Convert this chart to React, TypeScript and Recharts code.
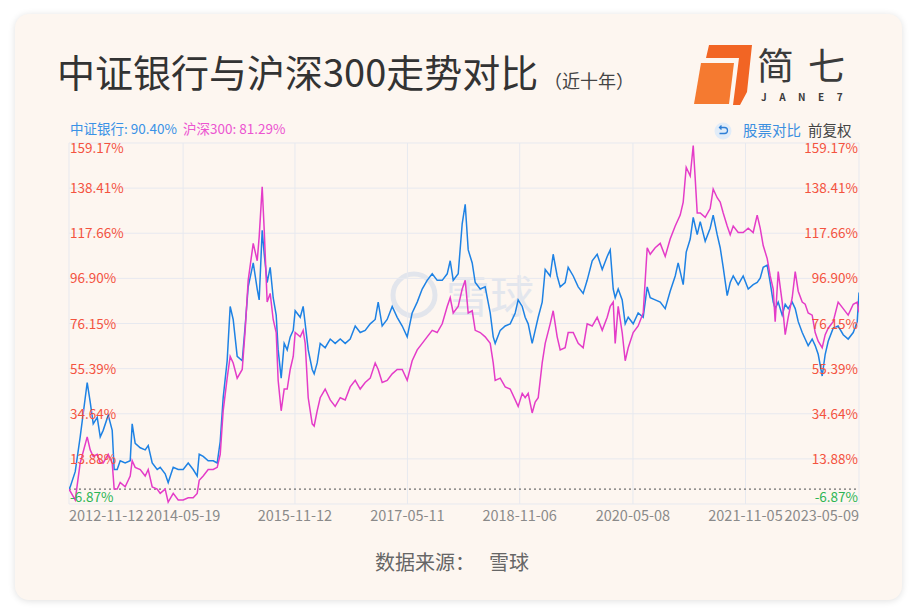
import React from "react";
import {
  LineChart,
  Line,
  XAxis,
  YAxis,
  CartesianGrid,
  ReferenceLine,
} from "recharts";

const FONT = '"Noto Sans CJK SC", "Noto Sans", sans-serif';
const BLUE = "#1e82e4";
const PINK = "#e43cc8";
const RED = "#f4533f";
const GREEN = "#2db555";

// x = decimal year of each sample
const xYear = [
  2012.863, 2012.879, 2012.946, 2013.012, 2013.105, 2013.145, 2013.185, 2013.238, 2013.278, 2013.317,
  2013.384, 2013.437, 2013.463, 2013.503, 2013.543, 2013.609, 2013.676, 2013.702, 2013.742, 2013.809,
  2013.875, 2013.915, 2013.968, 2014.034, 2014.074, 2014.14, 2014.18, 2014.247, 2014.313, 2014.379,
  2014.446, 2014.512, 2014.565, 2014.592, 2014.645, 2014.711, 2014.778, 2014.831, 2014.871, 2014.91,
  2014.963, 2015.003, 2015.043, 2015.096, 2015.163, 2015.202, 2015.242, 2015.309, 2015.362, 2015.388,
  2015.428, 2015.455, 2015.494, 2015.534, 2015.574, 2015.614, 2015.64, 2015.68, 2015.72, 2015.76,
  2015.8, 2015.84, 2015.866, 2015.933, 2015.972, 2015.999, 2016.039, 2016.092, 2016.118, 2016.158,
  2016.198, 2016.264, 2016.331, 2016.397, 2016.464, 2016.53, 2016.596, 2016.663, 2016.729, 2016.795,
  2016.862, 2016.928, 2016.968, 2017.021, 2017.087, 2017.154, 2017.22, 2017.287, 2017.353, 2017.419,
  2017.486, 2017.552, 2017.618, 2017.685, 2017.751, 2017.818, 2017.884, 2017.924, 2017.964, 2018.03,
  2018.083, 2018.123, 2018.163, 2018.216, 2018.256, 2018.322, 2018.388, 2018.455, 2018.495, 2018.521,
  2018.588, 2018.654, 2018.72, 2018.787, 2018.826, 2018.88, 2018.919, 2018.959, 2019.012, 2019.052,
  2019.092, 2019.145, 2019.185, 2019.251, 2019.291, 2019.344, 2019.384, 2019.45, 2019.49, 2019.557,
  2019.623, 2019.689, 2019.742, 2019.809, 2019.875, 2019.942, 2020.008, 2020.048, 2020.088, 2020.114,
  2020.154, 2020.207, 2020.247, 2020.287, 2020.353, 2020.419, 2020.486, 2020.539, 2020.579, 2020.645,
  2020.712, 2020.778, 2020.844, 2020.911, 2020.95, 2020.977, 2021.017, 2021.057, 2021.11, 2021.15,
  2021.176, 2021.203, 2021.243, 2021.309, 2021.375, 2021.415, 2021.468, 2021.508, 2021.548, 2021.601,
  2021.641, 2021.681, 2021.747, 2021.813, 2021.88, 2021.946, 2021.999, 2022.039, 2022.079, 2022.132,
  2022.172, 2022.212, 2022.238, 2022.278, 2022.331, 2022.371, 2022.411, 2022.464, 2022.504, 2022.544,
  2022.597, 2022.636, 2022.676, 2022.729, 2022.769, 2022.809, 2022.862, 2022.902, 2022.942, 2023.008,
  2023.074, 2023.141, 2023.207, 2023.274, 2023.327, 2023.351,
];

// 中证银行 cumulative return, %
const bank = [
  0, 1, 8, 24, 49, 40, 30, 33, 24, 27,
  34, 27, 9, 9, 13, 12, 13, 30, 21, 19,
  18, 20, 12, 9, 10, 7, 3, 10, 9, 9,
  12, 9, 6, 16, 15, 13, 13, 12, 22, 42,
  59, 84, 78, 61, 59, 75, 93, 104, 92, 87,
  119, 108, 95, 102, 88, 80, 64, 51, 67, 64,
  70, 73, 82, 79, 84, 76, 64, 55, 53, 58,
  67, 65, 69, 67, 69, 67, 69, 75, 72, 73,
  76, 78, 86, 75, 78, 84, 79, 75, 70, 81,
  86, 92, 96, 99, 96, 96, 99, 105, 96, 99,
  122, 131, 110, 104, 95, 92, 93, 81, 70, 67,
  73, 75, 76, 81, 87, 84, 79, 76, 67, 73,
  79, 86, 101, 98, 108, 98, 93, 95, 102, 98,
  93, 90, 96, 105, 108, 101, 107, 110, 92, 88,
  92, 87, 76, 79, 76, 81, 79, 93, 88, 87,
  86, 83, 91, 98, 104, 100, 94, 109, 115, 125,
  121, 117, 123, 114, 120, 126, 117, 111, 102, 89,
  95, 98, 94, 98, 92, 94, 95, 97, 102, 103,
  95, 86, 83, 86, 80, 85, 83, 86, 83, 77,
  72, 69, 66, 69, 66, 62, 52, 62, 68, 74,
  75, 71, 69, 72, 77, 90.4,
];

// 沪深300 cumulative return, %
const hs300 = [
  0, -1, -5, 12, 24, 18, 15, 16, 12, 12,
  16, 12, 0, 0, 3, 1, 6, 13, 10, 9,
  6, 9, 1, 0, -2, 0, -6, -2, -5, -5,
  -4, -4, -2, 4, 6, 9, 9, 10, 16, 36,
  51, 61, 58, 51, 55, 73, 96, 113, 105, 116,
  139, 119, 86, 90, 78, 72, 50, 36, 46, 46,
  55, 61, 72, 70, 73, 67, 42, 30, 29, 36,
  42, 46, 41, 38, 42, 41, 47, 50, 46, 49,
  51, 58, 55, 49, 50, 53, 55, 55, 50, 59,
  64, 67, 70, 73, 72, 76, 84, 88, 81, 84,
  92, 96, 81, 82, 73, 72, 70, 67, 58, 50,
  51, 47, 46, 41, 38, 44, 42, 44, 35, 40,
  42, 58, 67, 76, 82, 70, 64, 65, 72, 72,
  67, 65, 76, 75, 79, 73, 79, 84, 86, 67,
  84, 72, 59, 65, 72, 75, 81, 111, 108, 111,
  113, 107, 115, 121, 124, 126, 132, 148, 144, 158,
  143, 127, 127, 125, 129, 138, 134, 132, 127, 121,
  117, 121, 118, 118, 120, 118, 126, 120, 112, 106,
  98, 92, 77, 100, 86, 71, 79, 88, 100, 91,
  86, 85, 81, 80, 72, 68, 65, 71, 74, 77,
  86, 83, 80, 85, 86, 81.29,
];

const xTickDates = [
  "2012-11-12",
  "2014-05-19",
  "2015-11-12",
  "2017-05-11",
  "2018-11-06",
  "2020-05-08",
  "2021-11-05",
  "2023-05-09",
];

const yTicks = [-6.87, 13.88, 34.64, 55.39, 76.15, 96.9, 117.66, 138.41, 159.17];

function toYear(d: string) {
  const [y, m, dd] = d.split("-").map(Number);
  const start = Date.UTC(y, 0, 1);
  const end = Date.UTC(y + 1, 0, 1);
  return y + (Date.UTC(y, m - 1, dd) - start) / (end - start);
}

const xTicks = xTickDates.map(toYear);
const tickLabel = new Map(xTicks.map((t, i) => [t, xTickDates[i]]));

const data = xYear.map((t, i) => ({ t, bank: bank[i], hs300: hs300[i] }));

function XTick(props: any) {
  const { x, y, payload } = props;
  const v = payload.value;
  const anchor =
    v === xTicks[0] ? "start" : v === xTicks[xTicks.length - 1] ? "end" : "middle";
  return (
    <text x={x} y={y + 17} textAnchor={anchor} fill="#8a8a8a" fontSize={14.5} fontFamily={FONT}>
      {tickLabel.get(v)}
    </text>
  );
}

function makeYTick(side: "left" | "right") {
  return function YTick(props: any) {
    const { x, y, payload } = props;
    const v = payload.value;
    const dy = v === yTicks[yTicks.length - 1] ? 10 : v === yTicks[0] ? -2 : 5;
    const left = side === "left";
    return (
      <text
        x={left ? x + 1 : x - 1}
        y={y + dy}
        textAnchor={left ? "start" : "end"}
        fill={v < 0 ? GREEN : RED}
        fontSize={13.5}
        fontFamily={FONT}
      >
        {v.toFixed(2)}%
      </text>
    );
  };
}

const LeftTick = makeYTick("left");
const RightTick = makeYTick("right");

export default function App() {
  const last = data.length - 1;
  return (
    <div
      style={{
        position: "absolute",
        left: 0,
        top: 0,
        width: 917,
        height: 614,
        background: "#ffffff",
        fontFamily: FONT,
        overflow: "hidden",
      }}
    >
      <div
        style={{
          position: "absolute",
          left: 15,
          top: 14,
          width: 887,
          height: 586,
          borderRadius: 14,
          background: "#fdf6f0",
          boxShadow: "0 1px 7px rgba(0,0,0,0.13)",
        }}
      />
      {/* watermark */}
      <svg width={917} height={614} style={{ position: "absolute", left: 0, top: 0 }}>
        <circle cx={414} cy={295} r={21} fill="none" stroke="#e2e5ec" strokeWidth={5} />
        <text x={446} y={313} fontSize={44} fill="#e3e6ed" fontFamily={FONT}>
          雪球
        </text>
      </svg>
      <div style={{ position: "absolute", left: 0, top: 0 }}>
        <LineChart
          width={917}
          height={614}
          data={data}
          margin={{ top: 143, right: 57, bottom: 80, left: 68 }}
        >
          <CartesianGrid stroke="#e7e9ef" yAxisId="l" />
          <XAxis
            dataKey="t"
            type="number"
            domain={[xTicks[0], xTicks[xTicks.length - 1]]}
            ticks={xTicks}
            interval={0}
            allowDataOverflow
            axisLine={false}
            tickLine={false}
            tickSize={0}
            tickMargin={0}
            height={30}
            tick={XTick}
          />
          <YAxis
            yAxisId="l"
            orientation="left"
            width={1}
            domain={[yTicks[0], yTicks[yTicks.length - 1]]}
            ticks={yTicks}
            interval={0}
            allowDataOverflow
            axisLine={false}
            tickLine={false}
            tickSize={0}
            tickMargin={0}
            tick={LeftTick}
          />
          <YAxis
            yAxisId="r"
            orientation="right"
            width={1}
            domain={[yTicks[0], yTicks[yTicks.length - 1]]}
            ticks={yTicks}
            interval={0}
            allowDataOverflow
            axisLine={false}
            tickLine={false}
            tickSize={0}
            tickMargin={0}
            tick={RightTick}
          />
          <ReferenceLine yAxisId="l" y={0} stroke="#6f6f6f" strokeDasharray="2 3" strokeWidth={1.2} />
          <Line
            yAxisId="l"
            type="linear"
            dataKey="bank"
            stroke={BLUE}
            strokeWidth={1.5}
            dot={false}
            isAnimationActive={false}
          />
          <Line
            yAxisId="l"
            type="linear"
            dataKey="hs300"
            stroke={PINK}
            strokeWidth={1.5}
            dot={false}
            isAnimationActive={false}
          />
        </LineChart>
      </div>
      {/* titles, legend, logo, source */}
      <svg
        width={917}
        height={614}
        style={{ position: "absolute", left: 0, top: 0, pointerEvents: "none" }}
        fontFamily={FONT}
      >
        <text x={57} y={87} fontSize={38} fill="#333">
          中证银行与沪深300走势对比
        </text>
        <text x={544} y={88} fontSize={18} fill="#444">
          （近十年）
        </text>

        <text x={70} y={134} fontSize={13.5}>
          <tspan fill="#3a92e6">中证银行: {data[last].bank.toFixed(2)}%</tspan>
          <tspan dx={6} fill="#ec55d0">
            沪深300: {data[last].hs300.toFixed(2)}%
          </tspan>
        </text>

        <circle cx={723} cy={131} r={8.5} fill="#e1ecf8" />
        <path
          d="M719.5 127.5 h5 a3 3 0 0 1 0 6 h-5 M721.5 125.5 l-2 2 l2 2"
          fill="none"
          stroke="#2f7fd6"
          strokeWidth={1.3}
        />
        <text x={743} y={136} fontSize={14.5} fill="#3b8fe0">
          股票对比
        </text>
        <text x={808} y={136} fontSize={14.5} fill="#444">
          前复权
        </text>

        {/* logo */}
        <polygon points="709,45 752,45 747,92 740,105 733,105 739,58 706,58" fill="#f26524" />
        <polygon points="701,63 734,63 729,104 694,104" fill="#f57a30" />
        <text x={757} y={80} fontSize={37} fill="#3b3b3b" letterSpacing={14}>
          简七
        </text>
        <text x={761} y={101} fontSize={10} fill="#3b3b3b" letterSpacing={12.5} fontWeight={600}>
          JANE7
        </text>

        <text x={375} y={570} fontSize={20} fill="#666">
          数据来源：
        </text>
        <text x={489} y={570} fontSize={20} fill="#666">
          雪球
        </text>
      </svg>
    </div>
  );
}
